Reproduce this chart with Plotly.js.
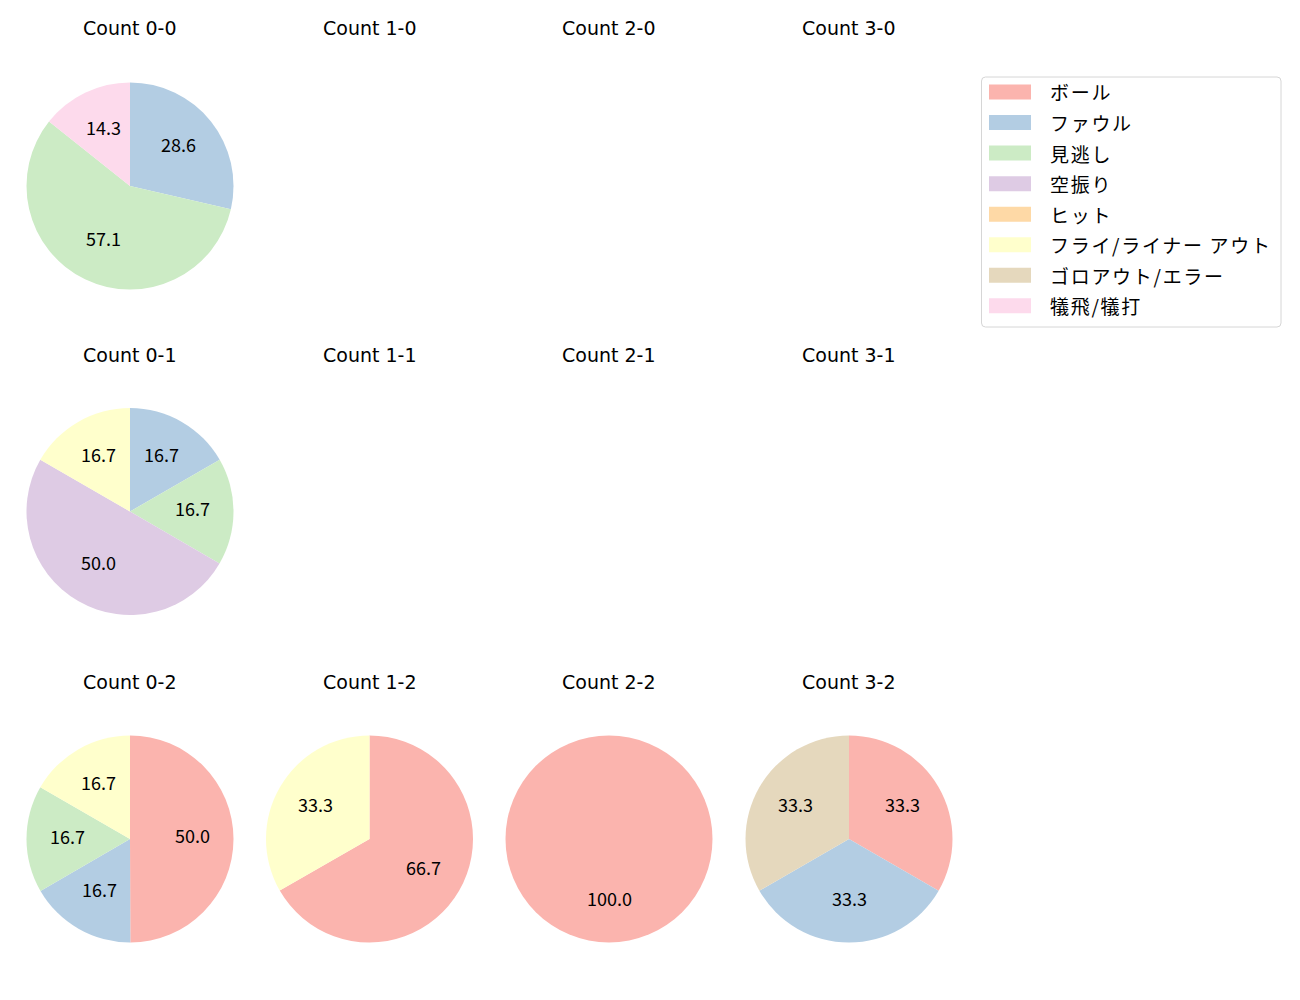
<!DOCTYPE html>
<html>
<head>
<meta charset="utf-8">
<script src="https://cdn.plot.ly/plotly-3.0.1.min.js"></script>
<style>body{margin:0;padding:0;background:#fff}#chart{width:1300px;height:1000px}</style>
</head>
<body>
<div id="chart"></div>
<script>
// Category labels and colours (Pastel1)
const labels = ["ボール", "ファウル", "見逃し", "空振り", "ヒット", "フライ/ライナー アウト", "ゴロアウト/エラー", "犠飛/犠打"];
const colors = ["#fbb4ae", "#b3cde3", "#ccebc5", "#decbe4", "#fed9a6", "#ffffcc", "#e5d8bd", "#fddaec"];

// Subplot titles (row-major, 3 rows x 4 cols)
const titles = [
  "Count 0-0", "Count 1-0", "Count 2-0", "Count 3-0",
  "Count 0-1", "Count 1-1", "Count 2-1", "Count 3-1",
  "Count 0-2", "Count 1-2", "Count 2-2", "Count 3-2"
];

// Percentages per count, in label order (null = empty panel)
const count00 = [0, 28.6, 57.1, 0, 0, 0, 0, 14.3];
const count10 = null;
const count20 = null;
const count30 = null;
const count01 = [0, 16.7, 16.7, 50.0, 0, 16.7, 0, 0];
const count11 = null;
const count21 = null;
const count31 = null;
const count02 = [50.0, 16.7, 16.7, 0, 0, 16.7, 0, 0];
const count12 = [66.7, 0, 0, 0, 0, 33.3, 0, 0];
const count22 = [100.0, 0, 0, 0, 0, 0, 0, 0];
const count32 = [33.3, 33.3, 0, 0, 0, 0, 33.3, 0];

const panels = [count00, count10, count20, count30, count01, count11, count21, count31, count02, count12, count22, count32];

// Layout geometry (pixels)
const W = 1300, H = 1000;
const colX = [130, 369.5, 609, 849];
const rowY = [186, 511.5, 839];
const R = 103.5;
const titleY = [29, 356, 682];
const CJK = "Noto Sans CJK JP, Noto Sans, sans-serif";
const LATIN = "DejaVu Sans, sans-serif";

const px = x => x / W;
const py = y => 1 - y / H;

const traces = [];
const annotations = [];
const shapes = [];
const legendAnnIdx = [];

panels.forEach((vals, i) => {
  const r = Math.floor(i / 4), c = i % 4;
  const cx = colX[c], cy = rowY[r];
  annotations.push({
    text: titles[i], xref: "paper", yref: "paper",
    x: px(cx), y: py(titleY[r] - 0.5), xanchor: "center", yanchor: "middle",
    showarrow: false, font: {family: LATIN, size: 19, color: "#000"}
  });
  if (!vals) return;
  traces.push({
    type: "pie", labels: labels, values: vals, sort: false,
    direction: "clockwise", rotation: 0,
    marker: {colors: colors, line: {width: 0}},
    textinfo: "none", hoverinfo: "label+value", showlegend: false,
    domain: {x: [px(cx - R), px(cx + R)], y: [py(cy + R), py(cy - R)]}
  });
  const total = vals.reduce((a, b) => a + b, 0);
  let acc = 0;
  vals.forEach(v => {
    if (v <= 0) return;
    const mid = (acc + v / 2) / total * 2 * Math.PI;
    acc += v;
    annotations.push({
      text: v.toFixed(1), xref: "paper", yref: "paper",
      x: px(cx + 0.6 * R * Math.sin(mid)), y: py(cy - 0.6 * R * Math.cos(mid) - 3.5),
      xanchor: "center", yanchor: "middle", showarrow: false,
      font: {family: CJK, size: 18, color: "#000"}
    });
  });
});

// Custom legend (matplotlib style)
const L = {x0: 981.5, x1: 1281, y0: 77, y1: 327, rad: 4};
const pathRound = (x0, y0, x1, y1, rr) =>
  `M ${px(x0 + rr)} ${py(y0)} L ${px(x1 - rr)} ${py(y0)} Q ${px(x1)} ${py(y0)} ${px(x1)} ${py(y0 + rr)} ` +
  `L ${px(x1)} ${py(y1 - rr)} Q ${px(x1)} ${py(y1)} ${px(x1 - rr)} ${py(y1)} ` +
  `L ${px(x0 + rr)} ${py(y1)} Q ${px(x0)} ${py(y1)} ${px(x0)} ${py(y1 - rr)} ` +
  `L ${px(x0)} ${py(y0 + rr)} Q ${px(x0)} ${py(y0)} ${px(x0 + rr)} ${py(y0)} Z`;
shapes.push({type: "path", xref: "paper", yref: "paper", path: pathRound(L.x0, L.y0, L.x1, L.y1, L.rad),
  line: {color: "#d6d6d6", width: 1}, fillcolor: "rgba(255,255,255,0.8)"});
labels.forEach((lab, k) => {
  const yc = 92 + k * 30.55;
  shapes.push({type: "rect", xref: "paper", yref: "paper",
    x0: px(989), x1: px(1031), y0: py(yc - 7.5), y1: py(yc + 7.5),
    line: {width: 0}, fillcolor: colors[k]});
  legendAnnIdx.push(annotations.length);
  annotations.push({text: lab, xref: "paper", yref: "paper", x: px(1048), y: py(yc),
    xanchor: "left", yanchor: "middle", showarrow: false,
    font: {family: CJK, size: 19, color: "#000"}});
});

const layout = {
  width: W, height: H,
  margin: {l: 0, r: 0, t: 0, b: 0},
  paper_bgcolor: "#fff", plot_bgcolor: "#fff",
  showlegend: false,
  annotations: annotations, shapes: shapes,
  font: {family: CJK}
};

Plotly.newPlot("chart", traces, layout, {displayModeBar: false, staticPlot: true}).then(gd => {
  const anns = gd.querySelectorAll(".annotation");
  legendAnnIdx.forEach(i => {
    const t = anns[i] && anns[i].querySelector("text");
    if (!t) return;
    const w0 = t.getBBox().width;
    t.style.letterSpacing = "1.7px";
    const w1 = t.getBBox().width;
    const anchor = t.getAttribute("text-anchor") || "middle";
    const dx = anchor === "middle" ? (w1 - w0) / 2 : (anchor === "end" ? (w1 - w0) : 0);
    t.setAttribute("transform", "translate(" + dx + ",0)");
  });
});
</script>
</body>
</html>
